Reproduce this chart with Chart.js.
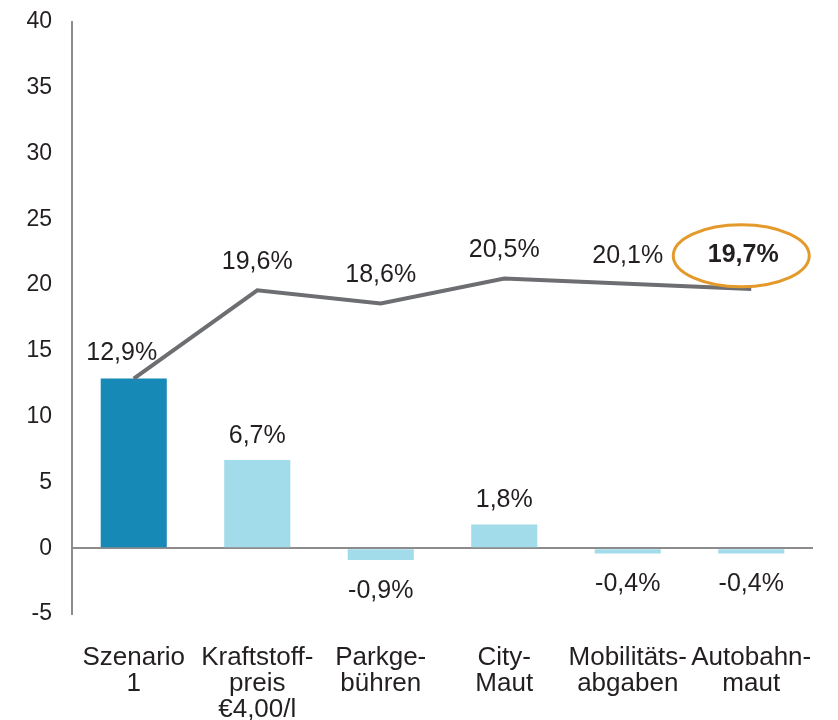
<!DOCTYPE html>
<html>
<head>
<meta charset="utf-8">
<script src="https://cdn.jsdelivr.net/npm/chart.js@4"></script>
<style>
  html, body { margin: 0; padding: 0; background: #fff; }
  #wrap { width: 838px; height: 720px; }
</style>
</head>
<body>
<div id="wrap"><canvas id="chart"></canvas></div>
<script>
var categories = [
    ["Szenario", "1"],
    ["Kraftstoff-", "preis", "€4,00/l"],
    ["Parkge-", "bühren"],
    ["City-", "Maut"],
    ["Mobilitäts-", "abgaben"],
    ["Autobahn-", "maut"]
]
var barValues = [12.9, 6.7, -0.9, 1.8, -0.4, -0.4]
var lineValues = [12.9, 19.6, 18.6, 20.5, 20.1, 19.7]
var yTicks = [-5, 0, 5, 10, 15, 20, 25, 30, 35, 40]
var highlightIndex = 5

var FONT = "'Liberation Sans', Arial, sans-serif"
var TEXT = "#231f20"

function fmt(v) {
    return v.toFixed(1).replace(".", ",") + "%"
}

var labelPlugin = {
    id: "labels",
    afterDatasetsDraw: function (chart) {
        var ctx = chart.ctx
        var x = chart.scales.x
        var y = chart.scales.y
        ctx.save()
        ctx.fillStyle = TEXT
        ctx.textAlign = "center"
        ctx.textBaseline = "middle"

        // bar labels (first one is shared with the line start)
        barValues.forEach((v, i) => {
            var px = x.getPixelForValue(i)
            ctx.font = "25px " + FONT
            if (i == 0) {
                ctx.fillText(fmt(v), px - 12, y.getPixelForValue(v) - 25)
            } else if (v >= 0) {
                ctx.fillText(fmt(v), px, y.getPixelForValue(v) - 24)
            } else {
                ctx.fillText(fmt(v), px, y.getPixelForValue(v) + 31)
            }
        })

        // line labels
        lineValues.forEach((v, i) => {
            if (i == 0) return
            var px = x.getPixelForValue(i)
            var py = y.getPixelForValue(v) - 28
            if (i == highlightIndex) {
                py = y.getPixelForValue(lineValues[i - 1]) - 29
                ctx.font = "bold 25px " + FONT
                ctx.fillText(fmt(v), px - 8, py)
                ctx.strokeStyle = "#e39a2b"
                ctx.lineWidth = 3
                ctx.beginPath()
                ctx.ellipse(px - 10, py + 1, 68, 31, 0, 0, Math.PI * 2)
                ctx.stroke()
            } else {
                ctx.font = "25px " + FONT
                ctx.fillText(fmt(v), px, py)
            }
        })
        ctx.restore()
    }
}

new Chart(document.getElementById("chart"), {
    data: {
        labels: categories,
        datasets: [
            {
                type: "line",
                data: lineValues,
                borderColor: "#6d6e71",
                borderWidth: 4,
                pointRadius: 0,
                tension: 0,
                order: 0
            },
            {
                type: "bar",
                data: barValues,
                backgroundColor: barValues.map((v, i) => i == 0 ? "#1789b6" : "#a2dbea"),
                barPercentage: 0.535,
                categoryPercentage: 1,
                order: 1
            }
        ]
    },
    options: {
        responsive: true,
        maintainAspectRatio: false,
        animation: false,
        layout: { padding: { top: 22, right: 25, left: 0, bottom: 0 } },
        plugins: { legend: { display: false }, tooltip: { enabled: false } },
        scales: {
            x: {
                offset: true,
                grid: { display: false },
                border: { display: false },
                afterFit: function (scale) {
                    scale.height = 106
                    scale.paddingLeft = 0
                    scale.paddingRight = 0
                },
                ticks: {
                    color: TEXT,
                    padding: 23,
                    maxRotation: 0,
                    autoSkip: false,
                    font: { family: FONT, size: 26, lineHeight: 1.0 }
                }
            },
            y: {
                min: -5,
                max: 40,
                afterFit: function (scale) {
                    scale.width = 72
                    scale.paddingTop = 0
                    scale.paddingBottom = 0
                },
                afterBuildTicks: function (scale) {
                    scale.ticks = yTicks.map(v => ({ value: v }))
                },
                border: { display: true, color: "#8c8c8c", width: 2 },
                grid: {
                    drawTicks: false,
                    color: ctx => ctx.tick && ctx.tick.value === 0 ? "#8c8c8c" : "rgba(0,0,0,0)",
                    lineWidth: 2
                },
                ticks: {
                    color: TEXT,
                    padding: 20,
                    font: { family: FONT, size: 23 }
                }
            }
        }
    },
    plugins: [labelPlugin]
})
</script>
</body>
</html>
